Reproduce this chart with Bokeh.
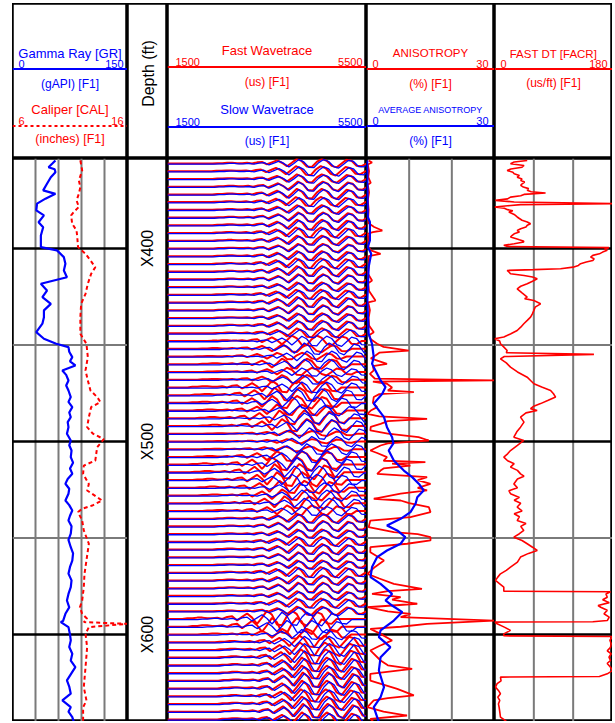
import math
from bokeh.plotting import figure
from bokeh.models import Range1d, Span
from bokeh.layouts import row, column
from bokeh.core.properties import value
from bokeh.embed import file_html
from bokeh.resources import INLINE

RED = "#ff0000"
BLUE = "#0000ff"
GRAY = "#7a7a7a"
FONT = "Liberation Sans"

# ---------------- data ----------------
DEPTH_TOP, DEPTH_BOT = 353.4, 645.1
DEPTH_LABELS = ["X400", "X500", "X600"]
DEPTH_LABEL_POS = [400, 500, 600]
MAJOR_DEPTHS = [400, 500, 600]
MINOR_DEPTHS = [450, 550]

GR_DEPTH = [354.4, 356.0, 357.9, 359.0, 360.5, 363.1, 366.5, 369.9, 371.7, 374.2, 376.8, 380.3, 382.9,
            386.4, 389.0, 393.3, 399.3, 401.0, 404.5, 407.9, 411.4, 414.9, 416.6, 418.3, 421.8,
            425.2, 428.7, 432.1, 435.6, 439.0, 443.4, 446.8, 449.4, 451.1, 453.5, 456.3, 458.5,
            460.6, 463.2, 465.5, 468.4, 471.0, 473.6, 477.0, 479.5, 482.2, 485.0, 487.4, 490.0,
            492.6, 496.0, 499.5, 502.0, 504.7, 508.1, 511.0, 514.0, 516.7, 519.5, 521.9, 524.5,
            527.1, 530.6, 533.0, 535.8, 538.5, 540.9, 544.0, 547.8, 551.0, 554.8, 558.0, 561.7,
            565.0, 568.5, 572.0, 575.5, 579.0, 582.4, 586.0, 589.3, 593.0, 593.6, 596.2, 600.0,
            603.1, 606.5, 610.0, 613.5, 616.9, 620.0, 623.8, 627.0, 630.7, 634.2, 637.7, 640.0,
            642.8, 645.4]
GR_VAL = [56, 52, 47, 55, 56, 50, 45, 40, 56, 43, 32, 31, 41,
          34, 40, 37, 37, 58, 67, 69, 67, 71, 54, 37, 45,
          39, 50, 41, 41, 39, 31, 41, 57, 73, 74, 78, 75,
          82, 65, 70, 73, 70, 73, 76, 73, 78, 74, 76, 72,
          73, 71, 76, 74, 77, 76, 79, 75, 78, 72, 69, 74,
          73, 69, 74, 78, 75, 73, 77, 76, 73, 76, 79, 78,
          75, 73, 77, 76, 73, 71, 74, 69, 66, 63, 73, 75,
          76, 74, 78, 76, 82, 77, 71, 74, 76, 65, 76, 73,
          78, 80]

CAL_DEPTH = [354.4, 359.6, 364.8, 368.2, 371.7, 375.1, 378.5, 381.1, 382.9, 387.2, 390.7, 394.1,
             399.3, 402.8, 406.2, 409.7, 413.1, 418.3, 423.5, 428.7, 435.6, 444.2, 449.4, 456.3,
             463.2, 468.4, 473.6, 477.0, 479.6, 482.2, 487.4, 492.6, 496.0, 498.8, 503.0, 509.9,
             512.5, 516.8, 522.0, 525.4, 528.9, 530.6, 533.2, 534.9, 536.6, 541.0, 546.1, 553.0,
             561.7, 568.6, 575.5, 582.4, 585.9, 589.3, 591.9, 593.6, 594.5, 596.2, 599.7, 606.6,
             617.0, 627.3, 634.2, 637.7, 645.4]
CAL_VAL = [11.9, 12.06, 11.77, 11.9, 11.77, 11.57, 11.77, 11.33, 11.1, 11.19, 11.57, 11.63,
           11.7, 12.35, 12.78, 13.2, 12.84, 12.55, 12.35, 11.97, 11.9, 11.9, 12.43, 12.55,
           12.35, 12.55, 12.78, 13.36, 13.65, 12.84, 12.64, 12.49, 13.0, 13.94, 13.36, 13.2,
           12.2, 12.14, 12.64, 12.49, 13.36, 13.8, 12.93, 12.06, 11.7, 12.06, 12.2, 12.64,
           12.43, 12.26, 12.2, 12.06, 11.86, 12.06, 12.49, 12.2, 15.97, 12.64, 12.35, 12.49,
           12.35, 12.2, 12.43, 12.14, 12.14]

ANI_DEPTH = [354.4, 355.5, 356.5, 360, 363, 366, 367, 371, 375, 380, 384, 387, 388.9, 390.7, 391.5,
             392.4, 396, 399, 401, 402.8, 404, 409, 413, 416.6, 418, 422, 427, 428, 432, 436,
             440, 443.4, 445, 447, 449.4, 451, 452.9, 454, 455.5, 457, 459.8, 461, 463.2, 465,
             467.5, 468.4, 469, 470.1, 472, 473.6, 474.4, 475.5, 477, 480, 482.2, 484, 485.7,
             487, 488.3, 489.5, 490.9, 492.5, 494.3, 496, 497.8, 499.5, 501, 502.1, 504.7,
             506, 508.1, 510, 510.7, 511.5, 512.5, 514, 515.1, 516.8, 518.5, 520, 522.0, 524,
             525.4, 527, 529.7, 530.6, 532, 534.0, 536.6, 539.2, 541.0, 544.4, 547.0, 548,
             549.6, 551.3, 553.0, 554.8, 557.4, 561.7, 565, 568.6, 571, 573.8, 576.4, 577.5,
             579.0, 580.7, 582, 584.1, 585.9, 588, 589.3, 591, 592.8, 594.5, 596, 597.1, 599.7,
             603.1, 606, 608.3, 613.5, 616, 617.8, 620.4, 623.9, 628.2, 631.6, 633, 634.2,
             637.7, 640, 642.0, 643.7, 645.4]
ANI_VAL = [0.5, 1.3, 0.3, 0.6, 0.4, 1.0, 0.3, 0.6, 0.3, 0.5, 0.4, 0.5, 1.8, 3.7, 1.5,
           0.3, 0.5, 0.4, 1.0, 3.3, 0.5, 0.6, 0.3, 1.3, 0.4, 0.6, 2.1, 0.4, 0.8, 0.5,
           0.6, 1.7, 0.6, 1.0, 2.5, 4.0, 9.9, 3.0, 2.1, 1.0, 4.8, 1.5, 1.7, 0.8,
           2.0, 30.0, 1.5, 4.8, 6.0, 5.0, 11.1, 3.0, 1.7, 1.5, 2.5, 1.0, 0.2,
           3.0, 14.2, 5.0, 3.3, 1.0, 0.9, 5.0, 12.2, 14.6, 5.0, 3.3, 0.9,
           2.5, 4.8, 4.0, 13.8, 6.0, 10.3, 4.0, 3.3, 2.5, 14.2, 12.0, 15.0, 12.0,
           14.2, 8.0, 1.7, 8.0, 10.0, 14.6, 15.0, 10.3, 0.9, 0.5, 6.4, 12.0,
           15.0, 15.0, 9.5, 0.9, 0.9, 4.1, 2.0, 0.2, 3.0, 6.4, 13.0, 5.0,
           1.3, 8.0, 6.0, 11.9, 0.2, 5.0, 10.3, 8.0, 30.0, 14.2, 8.0, 0.9, 3.3,
           6.0, 3.0, 0.9, 3.3, 5.0, 10.7, 0.9, 0.9, 7.2, 11.1, 5.0, 1.7,
           0.2, 4.0, 9.5, 0.9, 1.7]

AVG_DEPTH = [354.4, 383.7, 386.3, 395.9, 399.3, 402.8, 409.7, 427.0, 444.2, 449.4, 456.3, 459.8,
             463.2, 468.4, 471.8, 475.3, 480.4, 483.9, 487.4, 492.6, 497.8, 501.0, 504.7, 509.9,
             515.1, 518.5, 522.0, 525.4, 528.9, 532.3, 536.6, 540.1, 543.5, 546.1, 549.6, 553.0,
             556.5, 559.9, 565.1, 570.3, 573.8, 579.0, 582.4, 585.0, 588.4, 592.8, 597.9, 601.4,
             606.6, 611.8, 618.7, 627.3, 632.5, 637.7, 645.4]
AVG_VAL = [0.16, 0.3, 0.8, 0.8, 0.3, 1.1, 0.5, 0.2, 0.5, 1.3, 1.7, 1.3,
           2.1, 3.3, 4.45, 3.7, 1.7, 2.9, 4.1, 4.8, 6.0, 6.3, 5.2, 6.4,
           8.75, 10.7, 12.3, 13.4, 11.9, 11.5, 10.3, 8.0, 4.8, 7.2, 9.1, 8.0,
           4.8, 2.5, 1.3, 0.94, 3.3, 6.0, 4.45, 6.0, 8.4, 6.4, 3.3, 2.9,
           5.6, 3.3, 2.9, 4.1, 3.3, 1.7, 2.9]

DT_DEPTH = [354.4, 355.2, 356.1, 357.0, 357.9, 358.8, 359.6, 360.5, 361.3, 362.2, 363.1, 364.0,
            364.8, 365.6, 366.5, 367.3, 368.2, 369.0, 369.9, 370.6, 371.3, 372.0, 372.7, 373.4,
            374.3, 375.1, 375.9, 376.8, 377.3, 377.9, 378.5, 379.2, 379.9, 380.5, 381.1, 382.4,
            383.7, 384.5, 385.4, 386.3, 387.2, 388.0, 388.9, 389.8, 390.7, 391.5, 392.4, 393.2,
            394.1, 394.8, 395.5, 396.1, 396.7, 397.6, 398.4, 399.0, 399.6, 400.3, 401.0, 401.9,
            402.8, 403.6, 404.5, 405.3, 406.2, 407.0, 407.9, 408.8, 409.7, 410.5, 411.0, 411.4,
            412.2, 413.1, 414.0, 414.8, 415.7, 417.0, 418.3, 419.6, 420.9, 423.0, 425.2, 426.0,
            427.0, 428.7, 430.4, 432.1, 433.8, 435.6, 437.3, 439.0, 440.8, 442.5, 444.2, 445.9,
            446.8, 448.0, 449.4, 451.0, 452.9, 454.0, 454.9, 456.0, 457.2, 459.3, 461.5, 464.0,
            466.7, 468.4, 470.1, 471.8, 473.6, 475.3, 477.0, 478.7, 480.4, 481.7, 483.0, 484.0,
            485.2, 487.4, 490.0, 492.6, 495.0, 497.8, 499.5, 502.0, 504.7, 506.4, 508.1, 510.0,
            511.5, 513.3, 515.0, 516.8, 518.0, 519.5, 522.0, 524.0, 525.5, 527.1, 529.0, 530.5,
            532.0, 534.0, 536.0, 537.5, 539.0, 541.0, 542.5, 544.0, 546.1, 547.8, 549.6, 551.3,
            553.0, 554.8, 556.5, 558.0, 559.9, 562.5, 565.1, 566.8, 568.6, 570.3, 572.0, 573.8,
            575.5, 577.6, 577.9, 579.0, 580.7, 582.0, 583.5, 585.0, 585.9, 587.5, 589.3, 591.0,
            592.8, 593.4, 593.6, 594.5, 596.2, 597.9, 599.7, 600.7, 601.1, 603.0, 604.8, 606.6,
            608.5, 610.0, 611.8, 613.5, 615.0, 617.0, 618.7, 620.4, 621.8, 622.1, 624.0, 625.5,
            627.3, 629.0, 630.7, 632.5, 634.2, 636.0, 637.7, 640.0, 642.8, 644.0, 645.4]
DT_VAL = [49.9, 30, 24.4, 45, 42, 25, 19.3, 28, 30, 38, 34.6, 42,
          40, 46, 42.2, 40, 44, 52, 49.9, 56, 77.9, 45, 40, 24.4,
          20, 1.5, 30, 180, 40, 20, 0, 15, 20, 28, 21.9, 30,
          34.6, 38, 42, 50, 55.0, 50, 48, 40, 34.6, 38, 30, 27,
          24.4, 32, 38, 44, 44.7, 30, 14.2, 20, 174.6, 168, 172, 165,
          160, 150, 146.6, 152, 150, 140, 131.3, 128, 120, 100.8, 60, 19.3,
          22, 24.4, 45, 58, 65.2, 58, 49.9, 40, 34.6, 42, 49.9, 46,
          60, 70.3, 62, 60.1, 58, 55.0, 50, 44.7, 40, 34.6, 25, 14.2,
          0, 8, 9.1, 14, 19.3, 18, 151.7, 15, 9.1, 18, 24.4, 35,
          49.9, 55, 60.1, 72, 85.6, 90, 93.2, 82, 70.3, 60, 55.0, 65,
          48, 39.7, 45, 39.7, 34, 29.5, 44.7, 35, 24.4, 20, 14.2, 20,
          30, 24.4, 35, 39.7, 45, 35, 29.5, 35, 22, 24.4, 38, 30,
          40, 34.6, 42, 30, 38, 34.6, 48, 40, 44.7, 38, 29.5, 42,
          49.9, 58, 65.2, 52, 39.7, 35, 24.4, 18, 9.1, 5, 1.5, 8,
          14.2, 14.2, 177, 170, 172, 165, 175, 158, 162, 172, 167, 175,
          172, 150, 0, 4, 15, 24.4, 14.2, 14, 180, 176, 178, 177,
          172, 178, 174.6, 177, 172, 177, 180, 172, 160, 9.1, 10, 4,
          1.5, 6, 9.1, 5, 8, 6, 7, 8, 9.1, 14, 19.3]

# waveform samples (us) and one typical wavelet (in trace spacings)
WAVE_T = [1500, 1600, 1700, 1800, 1900, 2000, 2100, 2200, 2300, 2400, 2500, 2600, 2700, 2800,
          2900, 3000, 3100, 3200, 3300, 3400, 3500, 3600, 3700, 3800, 3900, 4000, 4100, 4200,
          4300, 4400, 4500, 4600, 4700, 4800, 4900, 5000, 5100, 5200, 5300, 5400, 5500]
WAVELET = [0, 0, 0, 0, 0, 0, 0, 0, 0, 0, 0.05, 0.05, 0.1, 0.1,
           0.05, 0.05, 0.1, 0.0, 0.15, 0.2, -0.1, 0.15, 0.4, 0.1, -0.35, 0.1, 0.6, 0.3,
           -0.4, -0.45, 0.2, 0.6, 0.35, -0.3, -0.5, 0.0, 0.5, 0.35, -0.3, -0.35, 0.0]
TRACE_STEP = 4
TRACE_DEPTH = list(range(356, 645, TRACE_STEP))
FAST_AMP = [1.0, 1.1, 1.0, 1.1, 1.2, 1.1, 1.0, 1.1, 1.2, 1.2, 1.1, 1.0, 1.1, 1.2, 1.2, 1.1, 1.0, 1.1, 1.2, 1.1, 1.0, 1.1,
            1.1, 1.2, 0.9, 0.8, 1.2, 0.9, 1.0,
            1.4, 1.6, 1.5, 1.3, 1.7, 1.5, 0.6, 0.5, 0.6, 1.2, 1.6, 1.8, 1.7, 1.5, 1.3, 1.5, 1.2,
            1.1, 1.2, 1.0, 1.1, 1.2, 1.1, 1.0, 1.2, 1.1, 1.2, 1.0, 1.1, 1.0,
            1.8, 1.9, 1.2,
            1.4, 1.6, 1.8, 1.7, 1.6, 1.8, 1.7, 1.5, 1.6, 1.7, 1.5]
FAST_SHIFT = [0, -20, 0, 20, 0, -20, 0, 20, 0, -20, 0, 20, 0, -20, 0, 20, 0, -20, 0, 20, 0, 0,
              0, -100, -300, -400, -300, -200, -300,
              -500, -450, -500, -400, -350, -300, -200, -200, -250, -400, -500, -450, -400, -350, -300, -250, -200,
              0, 20, 0, -20, 0, 20, 0, -20, 0, 20, 0, -20, 0,
              -600, -500, -300,
              50, 60, 80, 100, 100, 120, 100, 80, 100, 120, 100]
SLOW_AMP = [1.0, 1.1, 1.0, 1.1, 1.2, 1.1, 1.0, 1.1, 1.2, 1.2, 1.1, 1.0, 1.1, 1.2, 1.2, 1.1, 1.0, 1.1, 1.2, 1.1, 1.0, 1.1,
            1.0, 1.2, 1.4, 1.3, 1.2, 1.0, 1.1,
            1.3, 1.5, 1.4, 1.2, 1.3, 1.5, 1.4, 1.2, 1.3, 1.5, 1.6, 1.5, 1.4, 1.2, 1.3, 1.2, 1.1,
            1.1, 1.2, 1.0, 1.1, 1.2, 1.1, 1.0, 1.2, 1.1, 1.2, 1.0, 1.1, 1.0,
            1.6, 1.5, 1.2,
            1.4, 1.5, 1.6, 1.6, 1.5, 1.7, 1.6, 1.5, 1.5, 1.6, 1.4]
SLOW_SHIFT = [40] * 22 + [60, 100, 150, 200, 150, 100, 120] + \
             [100, 0, -100, 50, 150, 200, 250, 300, 200, 100, 0, -50, -100, 50, 100, 150, 100] + \
             [40] * 13 + [-300, -200, 100] + [150] * 11

# ---------------- layout ----------------
W = [115, 40, 199, 128, 118]
HH, HD = 155, 563


def base_fig(w, h, xr, yr):
    p = figure(width=w, height=h, x_range=xr, y_range=yr, output_backend="svg",
               toolbar_location=None, tools="", min_border=0,
               x_axis_location=None, y_axis_location=None)
    p.grid.visible = False
    p.outline_line_color = "black"
    p.outline_line_width = 2.5
    p.background_fill_color = "white"
    p.border_fill_color = "white"
    return p


def txt(p, x, y, s, color, size, align="center", baseline="middle", angle=0.0):
    p.text(x=[x], y=[y], text=[s], text_color=color, text_font=value(FONT),
           text_font_size=value(f"{size}px"), text_align=align, text_baseline=baseline, angle=angle)


def header(w, items):
    p = base_fig(w, HH, Range1d(0, w), Range1d(HH, 0))
    for it in items:
        if it[0] == "t":
            txt(p, *it[1])
        else:
            y, color, lo, hi, pl, pr, dash = it[1]
            p.add_layout(Span(location=y, dimension="width", line_color=color, line_width=2, line_dash=dash))
            txt(p, pl, y - 1.5, str(lo), color, 11, "left", "bottom")
            txt(p, w - pr, y - 1.5, str(hi), color, 11, "right", "bottom")
    return p


h_gr = header(W[0], [
    ("t", (W[0] / 2, 49.5, "Gamma Ray [GR]", BLUE, 13)),
    ("s", (65.5, BLUE, 0, 150, 6, 4, "solid")),
    ("t", (W[0] / 2, 80, "(gAPI) [F1]", BLUE, 12)),
    ("t", (W[0] / 2, 105.5, "Caliper [CAL]", RED, 13)),
    ("s", (122.5, RED, 6, 16, 6, 4, "3 3")),
    ("t", (W[0] / 2, 135.5, "(inches) [F1]", RED, 12.5)),
])

h_dep = header(W[1], [("t", (W[1] / 2 + 1, 70, "Depth (ft)", "black", 16, "center", "middle", math.pi / 2))])

h_wav = header(W[2], [
    ("t", (W[2] / 2, 47, "Fast Wavetrace", RED, 13)),
    ("s", (63.5, RED, 1500, 5500, 8, 4, "solid")),
    ("t", (W[2] / 2, 78, "(us) [F1]", RED, 12)),
    ("t", (W[2] / 2, 106, "Slow Wavetrace", BLUE, 13)),
    ("s", (123.5, BLUE, 1500, 5500, 8, 4, "solid")),
    ("t", (W[2] / 2, 137, "(us) [F1]", BLUE, 12)),
])

h_ani = header(W[3], [
    ("t", (W[3] / 2, 49.5, "ANISOTROPY", RED, 11.5)),
    ("s", (65.5, RED, 0, 30, 6, 6, "solid")),
    ("t", (W[3] / 2, 80.5, "(%) [F1]", RED, 12)),
    ("t", (W[3] / 2, 106.5, "AVERAGE ANISOTROPY", BLUE, 9)),
    ("s", (122.5, BLUE, 0, 30, 6, 6, "solid")),
    ("t", (W[3] / 2, 137.5, "(%) [F1]", BLUE, 12)),
])

h_dt = header(W[4], [
    ("t", (W[4] / 2, 50, "FAST DT [FACR]", RED, 11.5)),
    ("s", (65.5, RED, 0, 180, 6, 5, "solid")),
    ("t", (W[4] / 2, 79.5, "(us/ft) [F1]", RED, 12)),
])


def body(w, xr, vgrid, hgrid=True):
    p = base_fig(w, HD, xr, Range1d(DEPTH_BOT, DEPTH_TOP))
    for v in vgrid:
        s = Span(location=v, dimension="height", line_color=GRAY, line_width=2)
        s.level = "underlay"
        p.add_layout(s)
    if hgrid:
        for d in MINOR_DEPTHS:
            s = Span(location=d, dimension="width", line_color=GRAY, line_width=2)
            s.level = "underlay"
            p.add_layout(s)
        for d in MAJOR_DEPTHS:
            s = Span(location=d, dimension="width", line_color="black", line_width=2.5)
            s.level = "underlay"
            p.add_layout(s)
    return p


# Track 1: GR + caliper
b_gr = body(W[0], Range1d(0, 150), [30, 60, 90, 120])
b_gr.line(GR_VAL, GR_DEPTH, line_color=BLUE, line_width=2.2)
cal_x = [(c - 6) * 15.0 for c in CAL_VAL]  # caliper 6..16 drawn on the 0..150 track scale
b_gr.line(cal_x, CAL_DEPTH, line_color=RED, line_width=2, line_dash="4 3")

# Track 2: depth
b_dep = body(W[1], Range1d(0, 1), [], hgrid=False)
b_dep.text(x=[0.5] * len(DEPTH_LABELS), y=DEPTH_LABEL_POS, text=DEPTH_LABELS, angle=math.pi / 2,
           text_color="black", text_font=value(FONT), text_font_size=value("16px"),
           text_align="center", text_baseline="middle")

# Track 3: wave traces
b_wav = body(W[2], Range1d(1500, 5500), [], hgrid=False)


def traces(amps, shifts, base_off):
    xs, ys = [], []
    for d, a, s in zip(TRACE_DEPTH, amps, shifts):
        x = [1500] + [t + s for t in WAVE_T] + [5500]
        y = [d + base_off] + [d + base_off - a * w * TRACE_STEP for w in WAVELET] + \
            [d + base_off - a * WAVELET[-1] * TRACE_STEP]
        xs.append(x)
        ys.append(y)
    return xs, ys


fx, fy = traces(FAST_AMP, FAST_SHIFT, 0.0)
sx, sy = traces(SLOW_AMP, SLOW_SHIFT, 0.35)
b_wav.multi_line(fx, fy, line_color=RED, line_width=2)
b_wav.multi_line(sx, sy, line_color=BLUE, line_width=1.3)

# Track 4: anisotropy
b_ani = body(W[3], Range1d(0, 30), [10, 20])
b_ani.line(ANI_VAL, ANI_DEPTH, line_color=RED, line_width=1.8)
b_ani.line(AVG_VAL, AVG_DEPTH, line_color=BLUE, line_width=2.2)

# Track 5: fast DT
b_dt = body(W[4], Range1d(0, 180), [60, 120])
b_dt.line(DT_VAL, DT_DEPTH, line_color=RED, line_width=1.6)

layout = column(row(h_gr, h_dep, h_wav, h_ani, h_dt), row(b_gr, b_dep, b_wav, b_ani, b_dt),
                margin=(3, 0, 0, 12))

open("out.html", "w").write(file_html(layout, INLINE))
